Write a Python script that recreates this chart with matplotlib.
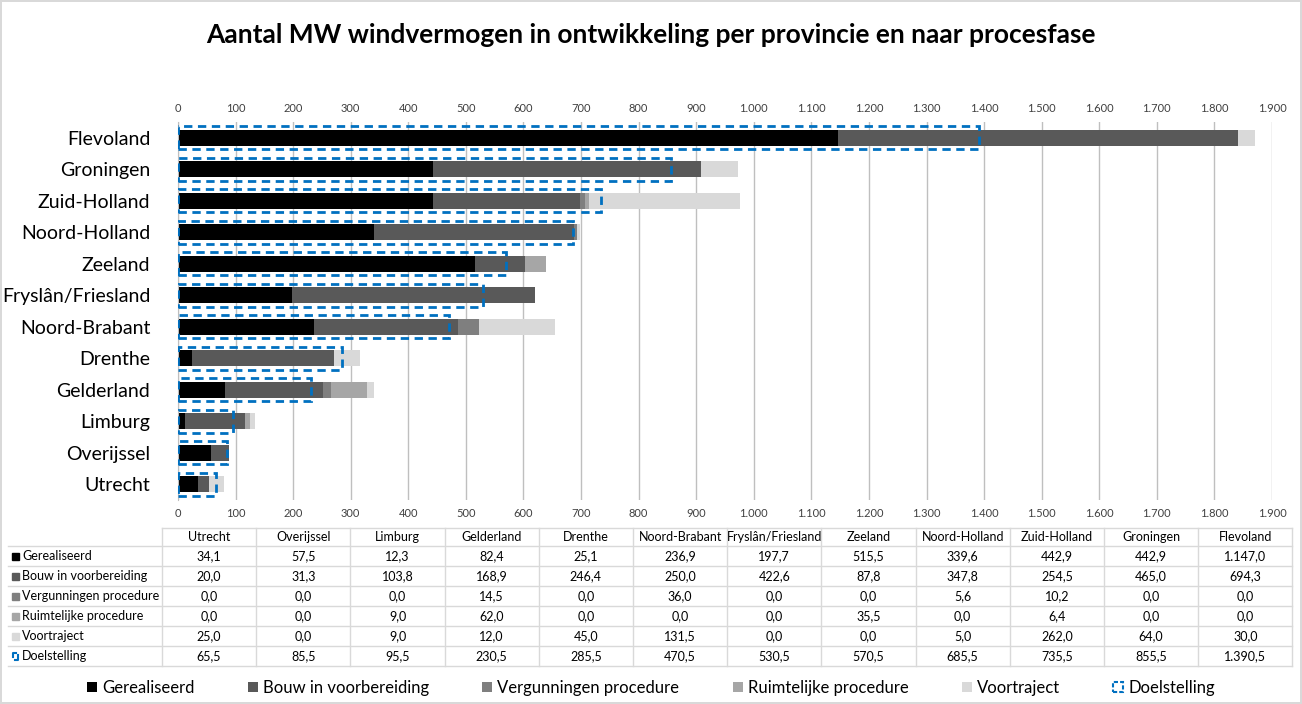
import matplotlib.pyplot as plt
from matplotlib.patches import Patch, Rectangle

plt.rcParams['font.family'] = ['Lato', 'DejaVu Sans']

# Data (van onder naar boven in de grafiek)
provincies = ['Utrecht', 'Overijssel', 'Limburg', 'Gelderland', 'Drenthe', 'Noord-Brabant',
              'Fryslân/Friesland', 'Zeeland', 'Noord-Holland', 'Zuid-Holland', 'Groningen', 'Flevoland']
gerealiseerd = [34.1, 57.5, 12.3, 82.4, 25.1, 236.9, 197.7, 515.5, 339.6, 442.9, 442.9, 1147.0]
bouw = [20.0, 31.3, 103.8, 168.9, 246.4, 250.0, 422.6, 87.8, 347.8, 254.5, 465.0, 694.3]
vergunningen = [0.0, 0.0, 0.0, 14.5, 0.0, 36.0, 0.0, 0.0, 5.6, 10.2, 0.0, 0.0]
ruimtelijk = [0.0, 0.0, 9.0, 62.0, 0.0, 0.0, 0.0, 35.5, 0.0, 6.4, 0.0, 0.0]
voortraject = [25.0, 0.0, 9.0, 12.0, 45.0, 131.5, 0.0, 0.0, 5.0, 262.0, 64.0, 30.0]
doelstelling = [65.5, 85.5, 95.5, 230.5, 285.5, 470.5, 530.5, 570.5, 685.5, 735.5, 855.5, 1390.5]

series = [('Gerealiseerd', gerealiseerd, '#000000'),
          ('Bouw in voorbereiding', bouw, '#595959'),
          ('Vergunningen procedure', vergunningen, '#7f7f7f'),
          ('Ruimtelijke procedure', ruimtelijk, '#a6a6a6'),
          ('Voortraject', voortraject, '#d9d9d9')]
blauw = '#0070C0'


def nl(v):
    s = f"{v:,.1f}"
    return s.replace(',', 'X').replace('.', ',').replace('X', '.')


W, H = 1302, 704
fig = plt.figure(figsize=(W / 100, H / 100), dpi=100)
fig.patch.set_edgecolor('#d9d9d9')
fig.patch.set_linewidth(1.5)

ax = fig.add_axes([178 / W, 1 - 500 / H, (1272 - 178) / W, (500 - 122) / H])
y = list(range(len(provincies)))
left = [0] * len(provincies)
for naam, vals, kleur in series:
    ax.barh(y, vals, left=left, height=0.5, color=kleur, zorder=2)
    left = [a + b for a, b in zip(left, vals)]
ax.barh(y, doelstelling, height=0.72, fill=False, edgecolor=blauw, linewidth=2,
        linestyle=(0, (3, 2)), zorder=3)

ax.set_xlim(0, 1900)
ax.set_ylim(-0.5, len(provincies) - 0.5)
ticks = list(range(0, 2000, 100))
ax.set_xticks(ticks)
ax.set_xticklabels([nl(t)[:-2] for t in ticks])
ax.tick_params(axis='x', length=0, labelsize=8, colors='#404040', top=True, labeltop=True, pad=6)
ax.set_yticks(y)
ax.set_yticklabels(provincies, fontsize=14)
ax.tick_params(axis='y', length=0, pad=20)
ax.grid(axis='x', color='#bfbfbf', linewidth=1, zorder=0)
for s in ['top', 'right', 'bottom']:
    ax.spines[s].set_visible(False)
ax.spines['left'].set_color('#bfbfbf')

fig.text(0.5, 1 - 35 / H, 'Aantal MW windvermogen in ontwikkeling per provincie en naar procesfase',
         ha='center', va='center', fontsize=19, fontweight='bold')

# Tabel onder de grafiek (pixelcoordinaten)
tab = fig.add_axes([0, 0, 1, 1])
tab.set_xlim(0, W)
tab.set_ylim(H, 0)
tab.axis('off')
x0, xl, cw = 8, 162, 94.2
rij_top = [528, 546, 566, 586, 606, 626, 646, 666]
lc = '#d9d9d9'
tab.plot([xl, xl + 12 * cw], [rij_top[0]] * 2, color=lc, lw=1)
for yy in rij_top[1:]:
    tab.plot([x0, xl + 12 * cw], [yy] * 2, color=lc, lw=1)
tab.plot([xl, xl], [rij_top[0], rij_top[-1]], color=lc, lw=1)
for i in range(12):
    xr = xl + (i + 1) * cw
    tab.plot([xr, xr], [rij_top[0], rij_top[-1]], color=lc, lw=1)
    tab.text(xl + (i + 0.5) * cw, (rij_top[0] + rij_top[1]) / 2, provincies[i],
             ha='center', va='center', fontsize=9)

rijen = [(n, v, k) for n, v, k in series] + [('Doelstelling', doelstelling, None)]
for r, (naam, vals, kleur) in enumerate(rijen):
    yc = (rij_top[r + 1] + rij_top[r + 2]) / 2
    if kleur:
        tab.add_patch(Rectangle((12, yc - 3.5), 7, 7, color=kleur))
    else:
        tab.plot([13, 13, 16], [yc + 1, yc - 3.5, yc - 3.5], color=blauw, lw=1.5)
        tab.plot([18, 18, 15], [yc - 1, yc + 3.5, yc + 3.5], color=blauw, lw=1.5)
    tab.text(22, yc, naam, ha='left', va='center', fontsize=9)
    for i, v in enumerate(vals):
        tab.text(xl + (i + 0.5) * cw, yc, nl(v), ha='center', va='center', fontsize=9)

handles = [Patch(facecolor=k, label=n) for n, v, k in series]
handles.append(Patch(facecolor='none', edgecolor=blauw, linestyle=(0, (2, 1)), linewidth=1.5,
                     label='Doelstelling'))
fig.legend(handles=handles, loc='center', bbox_to_anchor=(0.5, 1 - 688 / H), ncol=6,
           frameon=False, fontsize=12, handlelength=0.6, handleheight=0.6,
           handletextpad=0.3, columnspacing=3.2)

fig.savefig('out.png', dpi=100)
